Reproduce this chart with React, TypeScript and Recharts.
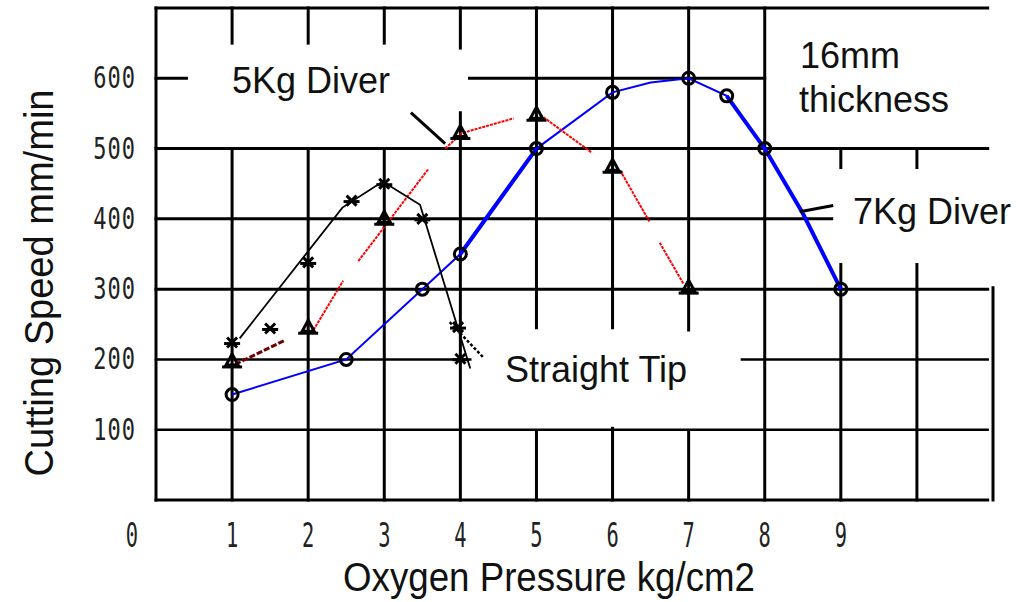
// Cutting speed vs oxygen pressure, 16mm plate — three torch tips
import { ComposedChart, Line, Scatter, XAxis, YAxis, ReferenceLine } from 'recharts'

// ── data ────────────────────────────────────────────────────
const xTicks = [0, 1, 2, 3, 4, 5, 6, 7, 8, 9]
const yTicks = [100, 200, 300, 400, 500, 600]

// 7Kg diver (blue, open circles)
const blueLineX = [1, 2.5, 3.5, 4, 5, 6, 6.5, 7, 7.5, 8, 8.5, 9]
const blueLineY = [150, 200, 300, 350, 500, 580, 594, 600, 575, 500, 408, 300]
const blueThickX = [4, 5, 6, 7.5, 8, 8.5, 9]
const blueThickY: (number | null)[] = [350, 500, null, 575, 500, 408, 300]
const circleX = [1, 2.5, 3.5, 4, 5, 6, 7, 7.5, 8, 9]
const circleY = [150, 200, 300, 350, 500, 580, 600, 575, 500, 300]

// Straight tip (black, x marks)
const blackLineX = [1.1, 2.45, 2.98, 3.47, 4.13]
const blackLineY = [230, 416, 453, 420, 187]
const crossX = [1, 1.5, 2, 2.57, 3, 3.5, 3.97, 4]
const crossY = [224, 244, 338, 426, 450, 400, 246, 201]

// 5Kg diver (red, triangles)
const triX = [1, 2, 3, 4, 5, 6, 7]
const triY = [195, 243, 398, 520, 546, 472, 300]
const redX = [2.07, 2.46, 2.56, 2.66, 3.58, 3.7, 3.8, 4.02, 4.7, 4.9, 5.05, 5.73, 5.9, 6.1, 6.49, 6.55, 6.62, 6.93]
const redY: (number | null)[] = [242, 312, null, 340, 471, null, 500, 522, 543, null, 548, 494, null, 469, 395, null, 366, 308]
const darkRedX = [1.04, 1.69]
const darkRedY = [193, 227]

// pointer arrows beside the labels
const arrow5X = [3.35, 3.8]
const arrow5Y = [551, 507]
const arrow7X = [8.46, 8.9]
const arrow7Y = [410, 419]
const arrowTipX = [3.86, 4.3]
const arrowTipY = [253, 203]

// grid pieces (the original grid is broken around the text boxes)
const hGrid: [number, number, number][] = [
  [700, 0, 10.93], [600, 0, 0.4], [600, 4.12, 8], [500, 0, 10.93], [400, 0, 8.88],
  [300, 0, 10.93], [200, 0, 4.13], [200, 7.7, 10.93], [100, 0, 10.93], [0, 0, 10.93],
]
const vGrid: [number, number, number][] = [
  [0, 0, 700], [1, 0, 500], [1, 650, 700], [2, 0, 500], [2, 650, 700],
  [3, 0, 500], [3, 650, 700], [4, 0, 551], [4, 643, 700], [5, 245, 700], [5, 0, 97],
  [6, 245, 700], [6, 0, 102], [7, 242, 700], [7, 0, 97], [8, 0, 700],
  [9, 0, 335], [9, 473, 500], [10, 0, 335], [10, 473, 500], [11, 0, 302],
]

const pts = (xs: number[], ys: (number | null)[]) => xs.map((x, i) => ({ x, y: ys[i] }))

const SANS = '"Liberation Sans", Arial, sans-serif'
const MONO = '"DejaVu Sans Mono", monospace'

// ── marker shapes ───────────────────────────────────────────
function CircleMark({ cx, cy }: any) {
  return <circle cx={cx} cy={cy} r={6} fill="none" stroke="#000" strokeWidth={3} />
}
function TriMark({ cx, cy }: any) {
  return (
    <g stroke="#000" strokeWidth={3} fill="none">
      <path d={`M${cx},${cy - 9} L${cx - 6},${cy + 2} L${cx + 6},${cy + 2} Z`} />
      <line x1={cx - 10} y1={cy + 4} x2={cx + 10} y2={cy + 4} />
    </g>
  )
}
function CrossMark({ cx, cy }: any) {
  return (
    <g stroke="#000" strokeWidth={3}>
      <line x1={cx - 5} y1={cy - 5} x2={cx + 5} y2={cy + 5} />
      <line x1={cx + 5} y1={cy - 5} x2={cx - 5} y2={cy + 5} />
      <line x1={cx - 8} y1={cy + 1} x2={cx + 8} y2={cy + 1} />
    </g>
  )
}

// ── ticks (the original uses a tall bitmap font) ────────────
function XTick({ x, payload }: any) {
  const tx = payload.value === 0 ? x - 24 : x
  return (
    <text transform={`translate(${tx},547) scale(0.85,1.4)`} textAnchor="middle"
      fontFamily={MONO} fontSize={24} fill="#222">{payload.value}</text>
  )
}
function YTick({ y, payload }: any) {
  return (
    <text transform={`translate(136,${y + 10}) scale(1,1.4)`} textAnchor="end"
      fontFamily={MONO} fontSize={22} letterSpacing={1} fill="#222">{payload.value}</text>
  )
}

export default function App() {
  return (
    <div style={{ position: 'absolute', left: 0, top: 0, width: 1021, height: 602, background: '#fff' }}>
      <ComposedChart width={1021} height={602} margin={{ top: 8, right: 28, left: 96, bottom: 52 }}>
        <XAxis dataKey="x" type="number" domain={[0, 11]} ticks={xTicks} height={50}
          axisLine={false} tickLine={false} tick={<XTick />} interval={0} allowDataOverflow />
        <YAxis dataKey="y" type="number" domain={[0, 700]} ticks={yTicks} width={60}
          axisLine={false} tickLine={false} tick={<YTick />} interval={0} allowDataOverflow />

        {hGrid.map(([y, x1, x2], i) => (
          <ReferenceLine key={`h${i}`} segment={[{ x: x1, y }, { x: x2, y }]} stroke="#000"
            strokeWidth={y === 100 || y === 200 ? 2.5 : 3} strokeLinecap="square" />
        ))}
        {vGrid.map(([x, y1, y2], i) => (
          <ReferenceLine key={`v${i}`} segment={[{ x, y: y1 }, { x, y: y2 }]} stroke="#000"
            strokeWidth={3} strokeLinecap="square" />
        ))}

        <Line data={pts(blueLineX, blueLineY)} dataKey="y" type="linear" stroke="#0000ff"
          strokeWidth={2} dot={false} isAnimationActive={false} />
        <Line data={pts(blueThickX, blueThickY)} dataKey="y" type="linear" stroke="#0000ff"
          strokeWidth={4} dot={false} connectNulls={false} isAnimationActive={false} />
        <Line data={pts(redX, redY)} dataKey="y" type="linear" stroke="#ff0000"
          strokeWidth={2} strokeDasharray="3 1" dot={false} connectNulls={false} isAnimationActive={false} />
        <Line data={pts(darkRedX, darkRedY)} dataKey="y" type="linear" stroke="#700000"
          strokeWidth={3} strokeDasharray="6 2" dot={false} isAnimationActive={false} />
        <Line data={pts(blackLineX, blackLineY)} dataKey="y" type="linear" stroke="#000"
          strokeWidth={1.8} dot={false} isAnimationActive={false} />
        <Line data={pts(arrow5X, arrow5Y)} dataKey="y" type="linear" stroke="#000"
          strokeWidth={3} dot={false} isAnimationActive={false} />
        <Line data={pts(arrow7X, arrow7Y)} dataKey="y" type="linear" stroke="#000"
          strokeWidth={3} dot={false} isAnimationActive={false} />
        <Line data={pts(arrowTipX, arrowTipY)} dataKey="y" type="linear" stroke="#000"
          strokeWidth={2.5} strokeDasharray="3 2" dot={false} isAnimationActive={false} />

        <Scatter data={pts(circleX, circleY)} dataKey="y" shape={<CircleMark />} isAnimationActive={false} />
        <Scatter data={pts(triX, triY)} dataKey="y" shape={<TriMark />} isAnimationActive={false} />
        <Scatter data={pts(crossX, crossY)} dataKey="y" shape={<CrossMark />} isAnimationActive={false} />
      </ComposedChart>

      <svg width={1021} height={602} style={{ position: 'absolute', left: 0, top: 0, pointerEvents: 'none' }}>
        <g fontFamily={SANS} fontSize={36} fill="#111">
          <text x={232} y={93}>5Kg Diver</text>
          <text x={800} y={68}>16mm</text>
          <text x={799} y={112}>thickness</text>
          <text x={853} y={224}>7Kg Diver</text>
          <text x={505} y={382}>Straight Tip</text>
        </g>
        <text x={549} y={591} textAnchor="middle" fontFamily={SANS} fontSize={40} fill="#111"
          textLength={412} lengthAdjust="spacingAndGlyphs">Oxygen Pressure kg/cm2</text>
        <text transform="translate(53,283) rotate(-90)" textAnchor="middle" fontFamily={SANS}
          fontSize={40} fill="#111" textLength={387} lengthAdjust="spacingAndGlyphs">Cutting Speed mm/min</text>
      </svg>
    </div>
  )
}
